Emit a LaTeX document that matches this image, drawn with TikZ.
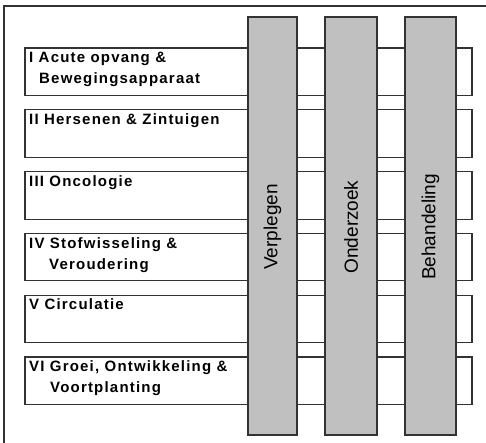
\documentclass[tikz,border=0pt]{standalone}
\usepackage{fontspec}
\setmainfont{Liberation Sans}
\newfontfamily\lblfont[LetterSpace=8]{Liberation Sans}
\definecolor{colgray}{HTML}{C0C0C0}
\definecolor{edge}{HTML}{333333}
\tikzset{
  frame/.style={draw=edge, line width=1.8pt},
  barbox/.style={draw=edge, line width=1.1pt, fill=white, minimum width=447pt, minimum height=47.5pt, anchor=north west, inner sep=0pt, outer sep=0pt},
  colbox/.style={draw=edge, line width=1.6pt, fill=colgray, minimum height=418pt, anchor=north west, inner sep=0pt, outer sep=0pt},
  lbl/.style={anchor=north west, inner sep=0pt, align=left, font=\lblfont\bfseries\fontsize{15}{21}\selectfont},
  coltext/.style={rotate=90, inner sep=0pt, font=\fontsize{19}{22}\selectfont}
}
\begin{document}
\begin{tikzpicture}[x=1pt, y=-1pt]
\useasboundingbox (0,0) rectangle (486,443);
\clip (0,0) rectangle (486,443);
\fill[white] (0,0) rectangle (486,443);
\draw[frame] (4,6) rectangle (500,460);
% horizontal bars
\node[barbox] (b1) at (25,48) {};
\node[barbox] (b2) at (25,109.8) {};
\node[barbox] (b3) at (25,171.6) {};
\node[barbox] (b4) at (25,233.4) {};
\node[barbox] (b5) at (25,295.2) {};
\node[barbox] (b6) at (25,357) {};
% labels
\node[lbl] (l1) at (29,51.7) {I Acute opvang \&\\\hspace*{10pt}Bewegingsapparaat};
\node[lbl] (l2) at (29,113.5) {II Hersenen \& Zintuigen};
\node[lbl] (l3) at (29,175.3) {III Oncologie};
\node[lbl] (l4) at (29,237.1) {IV Stofwisseling \&\\\hspace*{20pt}Veroudering};
\node[lbl] (l5) at (29,298.9) {V Circulatie};
\node[lbl] (l6) at (29,360.7) {VI Groei, Ontwikkeling \&\\\hspace*{21pt}Voortplanting};
% columns
\node[colbox, minimum width=49pt] (c1) at (248,17) {};
\node[colbox, minimum width=52pt] (c2) at (325,17) {};
\node[colbox, minimum width=51pt] (c3) at (405,17) {};
\node[coltext] (t1) at ([yshift=-1pt]c1.center) {Verplegen};
\node[coltext] (t2) at ([yshift=-1pt]c2.center) {Onderzoek};
\node[coltext] (t3) at ([yshift=-1pt]c3.center) {Behandeling};
\end{tikzpicture}
\end{document}
